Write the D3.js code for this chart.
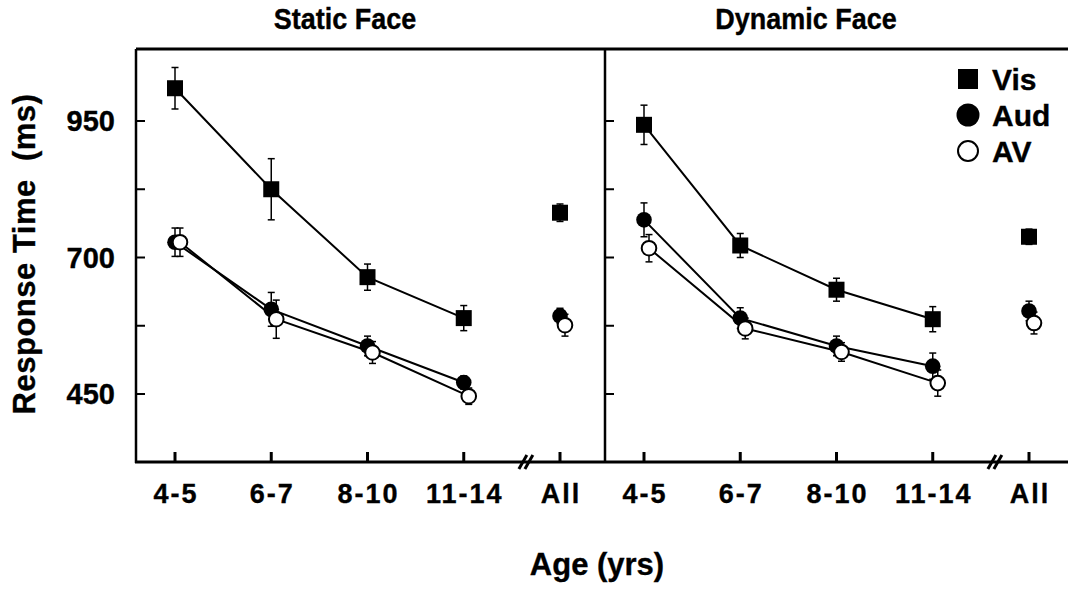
<!DOCTYPE html>
<html>
<head>
<meta charset="utf-8">
<style>
  body { margin: 0; background: #fff; }
  text { font-family: "Liberation Sans", Arial, sans-serif; font-weight: bold; fill: #000; stroke: #000; stroke-width: 0.35px; }
</style>
</head>
<body>
<div id="chart"></div>
<script src="https://d3js.org/d3.v7.min.js"></script>
<script>
// categories
var ages = ["4-5", "6-7", "8-10", "11-14", "All"];
var panels = ["Static Face", "Dynamic Face"];
var seriesNames = ["Vis", "Aud", "AV"];
var yTickValues = [450, 575, 700, 825, 950];
var yTickLabels = ["450", "", "700", "", "950"];

// static face (ms), last value = All
var staticVis = [1010, 825, 664, 589, 782];
var staticAud = [728, 605, 538, 471, 593];
var staticAV  = [728, 587, 526, 446, 576];
var staticVisErr = [38, 56, 24, 23, 16];
var staticAudErr = [26, 31, 18, 12, 14];
var staticAVErr  = [26, 35, 20, 15, 20];

// dynamic face (ms)
var dynamicVis = [943, 722, 641, 587, 738];
var dynamicAud = [769, 589, 538, 501, 602];
var dynamicAV  = [717, 570, 527, 470, 580];
var dynamicVisErr = [36, 22, 21, 23, 14];
var dynamicAudErr = [31, 19, 18, 24, 18];
var dynamicAVErr  = [25, 19, 17, 24, 20];

var width = 1073, height = 590;
var top0 = 49, bottom0 = 462;
var panelLeft = [136, 605];
var panelRight = 1068;

var svg = d3.select("#chart").append("svg")
    .attr("width", width)
    .attr("height", height);

var y = d3.scaleLinear().domain([450, 950]).range([394, 121]);

var x = d3.scalePoint().domain(ages).range([39, 424]);

var dodge = {Vis: 0, Aud: 0, AV: 5};

var panelData = [
  {Vis: staticVis, Aud: staticAud, AV: staticAV,
   VisErr: staticVisErr, AudErr: staticAudErr, AVErr: staticAVErr},
  {Vis: dynamicVis, Aud: dynamicAud, AV: dynamicAV,
   VisErr: dynamicVisErr, AudErr: dynamicAudErr, AVErr: dynamicAVErr}
];

// frame: top line, bottom axis
svg.append("line").attr("x1", panelLeft[0]).attr("x2", panelRight)
    .attr("y1", top0).attr("y2", top0).attr("stroke", "#000").attr("stroke-width", 3);
svg.append("line").attr("x1", panelLeft[0] - 1).attr("x2", panelRight)
    .attr("y1", bottom0).attr("y2", bottom0).attr("stroke", "#000").attr("stroke-width", 3);

panelLeft.forEach(function(px, p) {
  svg.append("line").attr("x1", px).attr("x2", px)
      .attr("y1", top0).attr("y2", bottom0 + 1)
      .attr("stroke", "#000").attr("stroke-width", 2.5);

  // inward y ticks
  svg.selectAll(".yt" + p).data(yTickValues).enter().append("line")
      .attr("x1", px).attr("x2", px + 9)
      .attr("y1", function(d) { return y(d); })
      .attr("y2", function(d) { return y(d); })
      .attr("stroke", "#000").attr("stroke-width", 2);

  var g = svg.append("g").attr("transform", "translate(" + px + ",0)");

  // x ticks
  g.selectAll(".xt").data(ages).enter().append("line")
      .attr("x1", function(d) { return x(d); })
      .attr("x2", function(d) { return x(d); })
      .attr("y1", bottom0 - 10).attr("y2", bottom0)
      .attr("stroke", "#000").attr("stroke-width", 3);

  // x labels
  g.selectAll(".xl").data(ages).enter().append("text")
      .attr("x", function(d) { return x(d) + 1; })
      .attr("y", 503)
      .attr("text-anchor", "middle")
      .attr("font-size", 27)
      .style("letter-spacing", "2px")
      .text(function(d) { return d; });

  // axis break //
  var bx = (x("11-14") + x("All")) / 2 + 14;
  [-3, 3].forEach(function(o) {
    g.append("line")
        .attr("x1", bx + o - 4).attr("y1", bottom0 + 7)
        .attr("x2", bx + o + 4).attr("y2", bottom0 - 7)
        .attr("stroke", "#000").attr("stroke-width", 3);
  });

  // panel title
  g.append("text")
      .attr("transform", "translate(" + (p === 0 ? 209 : 201) + ",29) scale(1,1.12)")
      .attr("text-anchor", "middle")
      .attr("font-size", 27)
      .text(panels[p]);

  var pd = panelData[p];
  var growth = ages.slice(0, 4);

  // lines (age groups only)
  seriesNames.forEach(function(s) {
    var line = d3.line()
        .x(function(d) { return x(d) + dodge[s]; })
        .y(function(d, i) { return y(pd[s][i]); });
    g.append("path").datum(growth)
        .attr("d", line)
        .attr("fill", "none")
        .attr("stroke", "#000")
        .attr("stroke-width", 2);
  });

  // error bars
  seriesNames.forEach(function(s) {
    ages.forEach(function(a, i) {
      var cx = x(a) + dodge[s];
      var hi = y(pd[s][i] + pd[s + "Err"][i]);
      var lo = y(pd[s][i] - pd[s + "Err"][i]);
      g.append("line").attr("x1", cx).attr("x2", cx).attr("y1", hi).attr("y2", lo)
          .attr("stroke", "#000").attr("stroke-width", 1.5);
      [hi, lo].forEach(function(yy) {
        g.append("line").attr("x1", cx - 3.5).attr("x2", cx + 3.5)
            .attr("y1", yy).attr("y2", yy)
            .attr("stroke", "#000").attr("stroke-width", 1.5);
      });
    });
  });

  // markers
  g.selectAll(".vis").data(ages).enter().append("rect")
      .attr("x", function(d) { return x(d) + dodge.Vis - 8; })
      .attr("y", function(d, i) { return y(pd.Vis[i]) - 8; })
      .attr("width", 16).attr("height", 16)
      .attr("fill", "#000");
  g.selectAll(".aud").data(ages).enter().append("circle")
      .attr("cx", function(d) { return x(d) + dodge.Aud; })
      .attr("cy", function(d, i) { return y(pd.Aud[i]); })
      .attr("r", 7.8)
      .attr("fill", "#000");
  g.selectAll(".av").data(ages).enter().append("circle")
      .attr("cx", function(d) { return x(d) + dodge.AV; })
      .attr("cy", function(d, i) { return y(pd.AV[i]); })
      .attr("r", 7.3)
      .attr("fill", "#fff")
      .attr("stroke", "#000")
      .attr("stroke-width", 2);
});

// y tick labels
svg.selectAll(".yl").data(yTickValues).enter().append("text")
    .attr("x", 115)
    .attr("y", function(d) { return y(d) + 10; })
    .attr("text-anchor", "end")
    .attr("font-size", 29)
    .text(function(d, i) { return yTickLabels[i]; });

// axis titles
svg.append("text")
    .attr("transform", "translate(35,254) rotate(-90)")
    .attr("text-anchor", "middle")
    .attr("font-size", 31)
    .style("white-space", "pre")
    .style("letter-spacing", "0.5px")
    .text("Response Time  (ms)");

svg.append("text")
    .attr("x", 597).attr("y", 575)
    .attr("text-anchor", "middle")
    .attr("font-size", 31)
    .text("Age (yrs)");

// legend
var legend = svg.append("g").attr("transform", "translate(968,0)");
var legendY = [79, 115, 151];
legend.append("rect").attr("x", -10).attr("y", legendY[0] - 10)
    .attr("width", 20).attr("height", 20).attr("fill", "#000");
legend.append("circle").attr("cx", 0).attr("cy", legendY[1]).attr("r", 11.5).attr("fill", "#000");
legend.append("circle").attr("cx", 0).attr("cy", legendY[2]).attr("r", 10)
    .attr("fill", "#fff").attr("stroke", "#000").attr("stroke-width", 2);
legend.selectAll(".lt").data(seriesNames).enter().append("text")
    .attr("x", 24)
    .attr("y", function(d, i) { return legendY[i] + 11; })
    .attr("font-size", 30)
    .text(function(d) { return d; });
</script>
</body>
</html>
